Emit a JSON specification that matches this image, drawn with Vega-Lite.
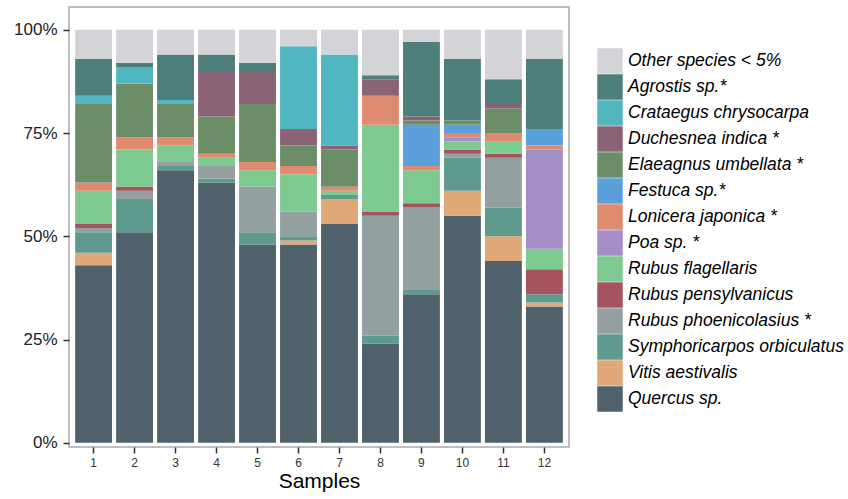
{
  "$schema": "https://vega.github.io/schema/vega-lite/v6.json",
  "width": 500,
  "height": 440,
  "autosize": "none",
  "padding": {"left": 69, "top": 7, "right": 279, "bottom": 52},
  "background": "white",
  "config": {
    "font": "Liberation Sans",
    "view": {"stroke": "#aaaaaa", "strokeWidth": 1.5}
  },
  "data": {
    "values": [
      {"sample": "1", "species": "Quercus sp.", "value": 43},
      {"sample": "1", "species": "Vitis aestivalis", "value": 3},
      {"sample": "1", "species": "Symphoricarpos orbiculatus", "value": 5},
      {"sample": "1", "species": "Rubus phoenicolasius", "value": 1},
      {"sample": "1", "species": "Rubus pensylvanicus", "value": 1},
      {"sample": "1", "species": "Rubus flagellaris", "value": 8},
      {"sample": "1", "species": "Lonicera japonica", "value": 2},
      {"sample": "1", "species": "Elaeagnus umbellata", "value": 19},
      {"sample": "1", "species": "Crataegus chrysocarpa", "value": 2},
      {"sample": "1", "species": "Agrostis sp.", "value": 9},
      {"sample": "1", "species": "Other species < 5%", "value": 7},

      {"sample": "2", "species": "Quercus sp.", "value": 51},
      {"sample": "2", "species": "Symphoricarpos orbiculatus", "value": 8},
      {"sample": "2", "species": "Rubus phoenicolasius", "value": 2},
      {"sample": "2", "species": "Rubus pensylvanicus", "value": 1},
      {"sample": "2", "species": "Rubus flagellaris", "value": 9},
      {"sample": "2", "species": "Lonicera japonica", "value": 3},
      {"sample": "2", "species": "Elaeagnus umbellata", "value": 13},
      {"sample": "2", "species": "Crataegus chrysocarpa", "value": 4},
      {"sample": "2", "species": "Agrostis sp.", "value": 1},
      {"sample": "2", "species": "Other species < 5%", "value": 8},

      {"sample": "3", "species": "Quercus sp.", "value": 66},
      {"sample": "3", "species": "Symphoricarpos orbiculatus", "value": 1},
      {"sample": "3", "species": "Rubus phoenicolasius", "value": 1},
      {"sample": "3", "species": "Rubus flagellaris", "value": 4},
      {"sample": "3", "species": "Lonicera japonica", "value": 2},
      {"sample": "3", "species": "Elaeagnus umbellata", "value": 8},
      {"sample": "3", "species": "Crataegus chrysocarpa", "value": 1},
      {"sample": "3", "species": "Agrostis sp.", "value": 11},
      {"sample": "3", "species": "Other species < 5%", "value": 6},

      {"sample": "4", "species": "Quercus sp.", "value": 63},
      {"sample": "4", "species": "Symphoricarpos orbiculatus", "value": 1},
      {"sample": "4", "species": "Rubus phoenicolasius", "value": 3},
      {"sample": "4", "species": "Rubus flagellaris", "value": 2},
      {"sample": "4", "species": "Lonicera japonica", "value": 1},
      {"sample": "4", "species": "Elaeagnus umbellata", "value": 9},
      {"sample": "4", "species": "Duchesnea indica", "value": 11},
      {"sample": "4", "species": "Agrostis sp.", "value": 4},
      {"sample": "4", "species": "Other species < 5%", "value": 6},

      {"sample": "5", "species": "Quercus sp.", "value": 48},
      {"sample": "5", "species": "Symphoricarpos orbiculatus", "value": 3},
      {"sample": "5", "species": "Rubus phoenicolasius", "value": 11},
      {"sample": "5", "species": "Rubus flagellaris", "value": 4},
      {"sample": "5", "species": "Lonicera japonica", "value": 2},
      {"sample": "5", "species": "Elaeagnus umbellata", "value": 14},
      {"sample": "5", "species": "Duchesnea indica", "value": 8},
      {"sample": "5", "species": "Agrostis sp.", "value": 2},
      {"sample": "5", "species": "Other species < 5%", "value": 8},

      {"sample": "6", "species": "Quercus sp.", "value": 48},
      {"sample": "6", "species": "Vitis aestivalis", "value": 1},
      {"sample": "6", "species": "Symphoricarpos orbiculatus", "value": 1},
      {"sample": "6", "species": "Rubus phoenicolasius", "value": 6},
      {"sample": "6", "species": "Rubus flagellaris", "value": 9},
      {"sample": "6", "species": "Lonicera japonica", "value": 2},
      {"sample": "6", "species": "Elaeagnus umbellata", "value": 5},
      {"sample": "6", "species": "Duchesnea indica", "value": 4},
      {"sample": "6", "species": "Crataegus chrysocarpa", "value": 20},
      {"sample": "6", "species": "Other species < 5%", "value": 4},

      {"sample": "7", "species": "Quercus sp.", "value": 53},
      {"sample": "7", "species": "Vitis aestivalis", "value": 6},
      {"sample": "7", "species": "Symphoricarpos orbiculatus", "value": 1},
      {"sample": "7", "species": "Rubus flagellaris", "value": 1},
      {"sample": "7", "species": "Lonicera japonica", "value": 1},
      {"sample": "7", "species": "Elaeagnus umbellata", "value": 9},
      {"sample": "7", "species": "Duchesnea indica", "value": 1},
      {"sample": "7", "species": "Crataegus chrysocarpa", "value": 22},
      {"sample": "7", "species": "Other species < 5%", "value": 6},

      {"sample": "8", "species": "Quercus sp.", "value": 24},
      {"sample": "8", "species": "Symphoricarpos orbiculatus", "value": 2},
      {"sample": "8", "species": "Rubus phoenicolasius", "value": 29},
      {"sample": "8", "species": "Rubus pensylvanicus", "value": 1},
      {"sample": "8", "species": "Rubus flagellaris", "value": 21},
      {"sample": "8", "species": "Lonicera japonica", "value": 7},
      {"sample": "8", "species": "Duchesnea indica", "value": 4},
      {"sample": "8", "species": "Agrostis sp.", "value": 1},
      {"sample": "8", "species": "Other species < 5%", "value": 11},

      {"sample": "9", "species": "Quercus sp.", "value": 36},
      {"sample": "9", "species": "Symphoricarpos orbiculatus", "value": 1},
      {"sample": "9", "species": "Rubus phoenicolasius", "value": 20},
      {"sample": "9", "species": "Rubus pensylvanicus", "value": 1},
      {"sample": "9", "species": "Rubus flagellaris", "value": 8},
      {"sample": "9", "species": "Lonicera japonica", "value": 1},
      {"sample": "9", "species": "Festuca sp.", "value": 10},
      {"sample": "9", "species": "Elaeagnus umbellata", "value": 1},
      {"sample": "9", "species": "Duchesnea indica", "value": 1},
      {"sample": "9", "species": "Agrostis sp.", "value": 18},
      {"sample": "9", "species": "Other species < 5%", "value": 3},

      {"sample": "10", "species": "Quercus sp.", "value": 55},
      {"sample": "10", "species": "Vitis aestivalis", "value": 6},
      {"sample": "10", "species": "Symphoricarpos orbiculatus", "value": 8},
      {"sample": "10", "species": "Rubus phoenicolasius", "value": 1},
      {"sample": "10", "species": "Rubus pensylvanicus", "value": 1},
      {"sample": "10", "species": "Rubus flagellaris", "value": 2},
      {"sample": "10", "species": "Poa sp.", "value": 1},
      {"sample": "10", "species": "Lonicera japonica", "value": 1},
      {"sample": "10", "species": "Festuca sp.", "value": 2},
      {"sample": "10", "species": "Elaeagnus umbellata", "value": 1},
      {"sample": "10", "species": "Agrostis sp.", "value": 15},
      {"sample": "10", "species": "Other species < 5%", "value": 7},

      {"sample": "11", "species": "Quercus sp.", "value": 44},
      {"sample": "11", "species": "Vitis aestivalis", "value": 6},
      {"sample": "11", "species": "Symphoricarpos orbiculatus", "value": 7},
      {"sample": "11", "species": "Rubus phoenicolasius", "value": 12},
      {"sample": "11", "species": "Rubus pensylvanicus", "value": 1},
      {"sample": "11", "species": "Rubus flagellaris", "value": 3},
      {"sample": "11", "species": "Lonicera japonica", "value": 2},
      {"sample": "11", "species": "Elaeagnus umbellata", "value": 6},
      {"sample": "11", "species": "Duchesnea indica", "value": 1},
      {"sample": "11", "species": "Agrostis sp.", "value": 6},
      {"sample": "11", "species": "Other species < 5%", "value": 12},

      {"sample": "12", "species": "Quercus sp.", "value": 33},
      {"sample": "12", "species": "Vitis aestivalis", "value": 1},
      {"sample": "12", "species": "Symphoricarpos orbiculatus", "value": 2},
      {"sample": "12", "species": "Rubus pensylvanicus", "value": 6},
      {"sample": "12", "species": "Rubus flagellaris", "value": 5},
      {"sample": "12", "species": "Poa sp.", "value": 24},
      {"sample": "12", "species": "Lonicera japonica", "value": 1},
      {"sample": "12", "species": "Festuca sp.", "value": 4},
      {"sample": "12", "species": "Agrostis sp.", "value": 17},
      {"sample": "12", "species": "Other species < 5%", "value": 7}
    ]
  },
  "transform": [
    {
      "lookup": "species",
      "from": {
        "data": {
          "values": [
            {"species": "Other species < 5%", "rank": 1},
            {"species": "Agrostis sp.", "rank": 2},
            {"species": "Crataegus chrysocarpa", "rank": 3},
            {"species": "Duchesnea indica", "rank": 4},
            {"species": "Elaeagnus umbellata", "rank": 5},
            {"species": "Festuca sp.", "rank": 6},
            {"species": "Lonicera japonica", "rank": 7},
            {"species": "Poa sp.", "rank": 8},
            {"species": "Rubus flagellaris", "rank": 9},
            {"species": "Rubus pensylvanicus", "rank": 10},
            {"species": "Rubus phoenicolasius", "rank": 11},
            {"species": "Symphoricarpos orbiculatus", "rank": 12},
            {"species": "Vitis aestivalis", "rank": 13},
            {"species": "Quercus sp.", "rank": 14}
          ]
        },
        "key": "species",
        "fields": ["rank"]
      }
    }
  ],
  "mark": {"type": "bar", "stroke": null},
  "encoding": {
    "x": {
      "field": "sample",
      "type": "ordinal",
      "sort": ["1","2","3","4","5","6","7","8","9","10","11","12"],
      "scale": {"paddingInner": 0.1, "paddingOuter": 0.15},
      "axis": {
        "title": "Samples",
        "titleFontSize": 21,
        "titleFontWeight": "normal",
        "titleColor": "#000000",
        "titlePadding": 2,
        "labelAngle": 0,
        "labelFontSize": 12,
        "labelColor": "#333333",
        "labelPadding": 4,
        "tickColor": "#333333",
        "tickWidth": 1.5,
        "tickSize": 6,
        "domain": false,
        "grid": false
      }
    },
    "y": {
      "field": "value",
      "type": "quantitative",
      "stack": "zero",
      "scale": {"domain": [-1, 105.5], "nice": false, "zero": false},
      "axis": {
        "title": null,
        "values": [0, 25, 50, 75, 100],
        "labelExpr": "datum.value + '%'",
        "labelFontSize": 17,
        "labelColor": "#222222",
        "labelPadding": 6,
        "tickColor": "#333333",
        "tickWidth": 1.5,
        "tickSize": 6,
        "domain": false,
        "grid": false
      }
    },
    "order": {"field": "rank", "type": "quantitative", "sort": "descending"},
    "color": {
      "field": "species",
      "type": "nominal",
      "sort": ["Other species < 5%", "Agrostis sp.", "Crataegus chrysocarpa", "Duchesnea indica", "Elaeagnus umbellata", "Festuca sp.", "Lonicera japonica", "Poa sp.", "Rubus flagellaris", "Rubus pensylvanicus", "Rubus phoenicolasius", "Symphoricarpos orbiculatus", "Vitis aestivalis", "Quercus sp."],
      "scale": {
        "domain": ["Other species < 5%", "Agrostis sp.", "Crataegus chrysocarpa", "Duchesnea indica", "Elaeagnus umbellata", "Festuca sp.", "Lonicera japonica", "Poa sp.", "Rubus flagellaris", "Rubus pensylvanicus", "Rubus phoenicolasius", "Symphoricarpos orbiculatus", "Vitis aestivalis", "Quercus sp."],
        "range": ["#d4d4d8", "#4d7f7a", "#52b6c0", "#8b6377", "#6b8e68", "#5b9fdb", "#de8b6f", "#a38ec8", "#7ec98f", "#a5535f", "#949f9f", "#5f9a8e", "#e0a878", "#4f626c"]
      },
      "legend": {
        "title": null,
        "orient": "none",
        "legendX": 528,
        "legendY": 41,
        "symbolType": "square",
        "symbolSize": 650,
        "symbolStrokeWidth": 0,
        "symbolOpacity": 1,
        "rowPadding": 0,
        "labelFontSize": 17.5,
        "labelFontStyle": "italic",
        "labelColor": "#000000",
        "labelOffset": 5,
        "labelLimit": 300,
        "labelExpr": "indexof(['Agrostis sp.', 'Festuca sp.'], datum.label) >= 0 ? datum.label + '*' : (indexof(['Duchesnea indica', 'Elaeagnus umbellata', 'Lonicera japonica', 'Poa sp.', 'Rubus phoenicolasius'], datum.label) >= 0 ? datum.label + ' *' : datum.label)"
      }
    }
  }
}
